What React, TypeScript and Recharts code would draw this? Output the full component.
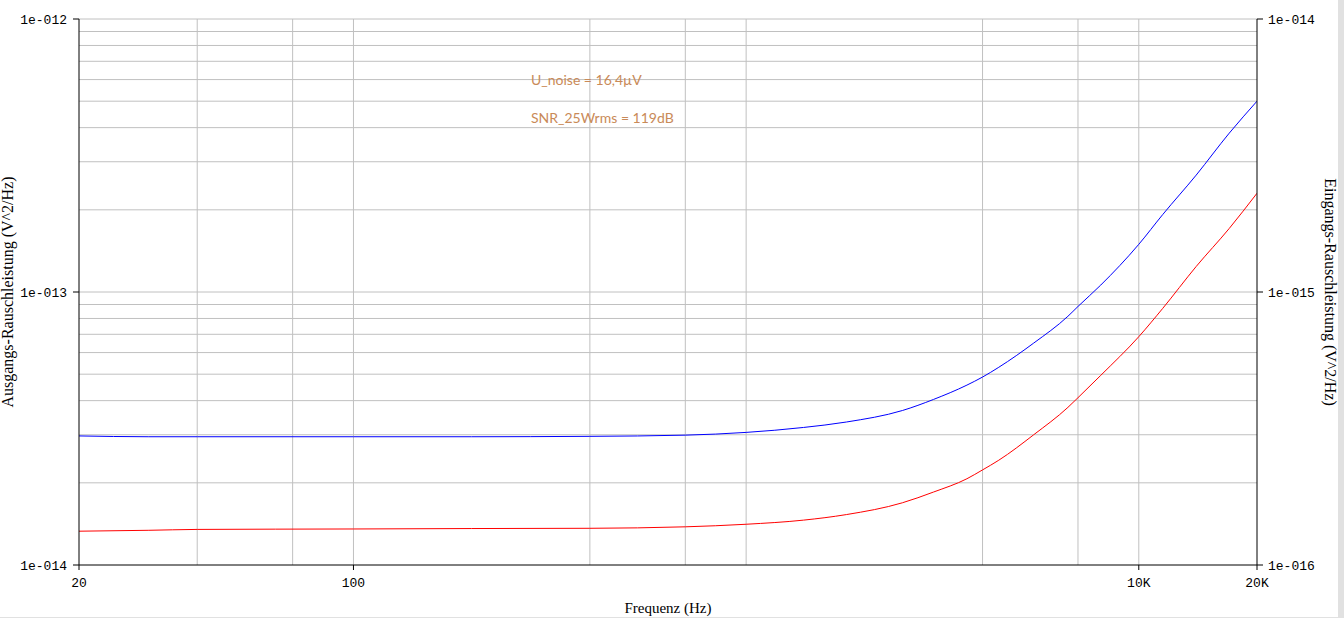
import React from "react";
import {
  LineChart,
  Line,
  XAxis,
  YAxis,
  ReferenceLine,
  Label,
} from "recharts";

// frequency points (Hz)
const freqs = [
  20, 30, 40, 100, 200, 400, 700, 1000, 1400, 1800, 2500, 3000, 3650, 4000,
  4400, 5400, 6600, 7000, 8000, 10000, 11500, 14000, 17000, 20000,
];

// output noise power, units of 1e-14 V^2/Hz (left axis, blue)
const outNoise = [
  2.97, 2.95, 2.95, 2.95, 2.95, 2.96, 2.99, 3.06, 3.19, 3.34, 3.68, 4.04, 4.56,
  4.88, 5.3, 6.5, 8.15, 8.85, 10.6, 14.95, 19.2, 26.8, 38.2, 50.0,
];

// input noise power, units of 1e-16 V^2/Hz (right axis, red)
const inNoise = [
  1.33, 1.34, 1.35, 1.355, 1.36, 1.363, 1.38, 1.41, 1.46, 1.53, 1.69, 1.85,
  2.07, 2.23, 2.42, 3.0, 3.78, 4.1, 4.95, 6.86, 8.7, 12.4, 17.1, 23.0,
];

const xTicks = [20, 100, 10000, 20000];
const xGrid = [40, 70, 100, 400, 700, 1000, 4000, 7000, 10000];
const leftTicks = [1e-14, 1e-13, 1e-12];
const rightTicks = [1e-16, 1e-15, 1e-14];
const mantissas = [2, 3, 4, 5, 6, 7, 8, 9];
const yGrid = [
  ...mantissas.map((m) => m * 1e-14),
  1e-13,
  ...mantissas.map((m) => m * 1e-13),
  1e-12,
];

const notes = ["U_noise = 16,4µV", "SNR_25Wrms = 119dB"];

const data = freqs.map((f, i) => ({
  f,
  out: outNoise[i] * 1e-14,
  inp: inNoise[i] * 1e-16,
}));

const fmtExp = (v: number) => {
  const e = Math.round(Math.log10(v));
  return `1e-${String(-e).padStart(3, "0")}`;
};

const fmtFreq = (v: number) => (v >= 1000 ? `${v / 1000}K` : `${v}`);

const tickStyle = { fontFamily: "Liberation Mono", fontSize: 13, fill: "#000" };
const titleFont = "Liberation Serif";

const LeftTitle = ({ viewBox }: any) => {
  const cx = viewBox.x + viewBox.width - 72;
  const cy = viewBox.y + viewBox.height / 2;
  return (
    <text
      x={cx}
      y={cy}
      transform={`rotate(-90, ${cx}, ${cy})`}
      textAnchor="middle"
      dominantBaseline="central"
      fontFamily={titleFont}
      fontSize={16}
      fill="#000"
    >
      Ausgangs-Rauschleistung (V^2/Hz)
    </text>
  );
};

const RightTitle = ({ viewBox }: any) => {
  const cx = viewBox.x + 73;
  const cy = viewBox.y + viewBox.height / 2;
  return (
    <text
      x={cx}
      y={cy}
      transform={`rotate(90, ${cx}, ${cy})`}
      textAnchor="middle"
      dominantBaseline="central"
      fontFamily={titleFont}
      fontSize={16}
      fill="#000"
    >
      Eingangs-Rauschleistung (V^2/Hz)
    </text>
  );
};

const BottomTitle = ({ viewBox }: any) => {
  const cx = viewBox.x + viewBox.width / 2;
  const cy = viewBox.y + 48;
  return (
    <text
      x={cx}
      y={cy}
      textAnchor="middle"
      fontFamily={titleFont}
      fontSize={15}
      fill="#000"
    >
      Frequenz (Hz)
    </text>
  );
};

export default function App() {
  return (
    <div
      style={{
        position: "absolute",
        left: 0,
        top: 0,
        width: 1344,
        height: 618,
        background: "#e1e1e1",
      }}
    >
      <div style={{ position: "relative", width: 1338, height: 617, background: "#fff" }}>
        <LineChart
          width={1338}
          height={617}
          data={data}
          margin={{ top: 19, right: 0, bottom: 0, left: 0 }}
        >
          <XAxis
            dataKey="f"
            type="number"
            scale="log"
            domain={[20, 20000]}
            ticks={xTicks}
            tickFormatter={fmtFreq}
            allowDataOverflow
            height={52}
            stroke="#000"
            tickSize={5}
            tickMargin={8}
            tick={tickStyle}
          >
            <Label content={<BottomTitle />} />
          </XAxis>
          <YAxis
            yAxisId="left"
            type="number"
            scale="log"
            domain={[1e-14, 1e-12]}
            ticks={leftTicks}
            tickFormatter={fmtExp}
            allowDataOverflow
            width={79}
            stroke="#000"
            tickSize={6}
            tickMargin={6}
            tick={tickStyle}
          >
            <Label content={<LeftTitle />} />
          </YAxis>
          <YAxis
            yAxisId="right"
            orientation="right"
            type="number"
            scale="log"
            domain={[1e-16, 1e-14]}
            ticks={rightTicks}
            tickFormatter={fmtExp}
            allowDataOverflow
            width={81}
            stroke="#000"
            tickSize={6}
            tickMargin={5}
            tick={tickStyle}
          >
            <Label content={<RightTitle />} />
          </YAxis>
          {yGrid.map((v) => (
            <ReferenceLine key={`h${v}`} yAxisId="left" y={v} stroke="#c0c0c0" />
          ))}
          {xGrid.map((v) => (
            <ReferenceLine key={`v${v}`} yAxisId="left" x={v} stroke="#c0c0c0" />
          ))}
          <Line
            yAxisId="left"
            type="monotone"
            dataKey="out"
            stroke="#0000ff"
            strokeWidth={1}
            dot={false}
            isAnimationActive={false}
          />
          <Line
            yAxisId="right"
            type="monotone"
            dataKey="inp"
            stroke="#ff0000"
            strokeWidth={1}
            dot={false}
            isAnimationActive={false}
          />
        </LineChart>
        {notes.map((t, i) => (
          <div
            key={t}
            style={{
              position: "absolute",
              left: 531,
              top: 71 + i * 38,
              fontFamily: "Lato",
              fontSize: 14,
              color: "#c98a58",
              whiteSpace: "nowrap",
            }}
          >
            {t}
          </div>
        ))}
      </div>
    </div>
  );
}
